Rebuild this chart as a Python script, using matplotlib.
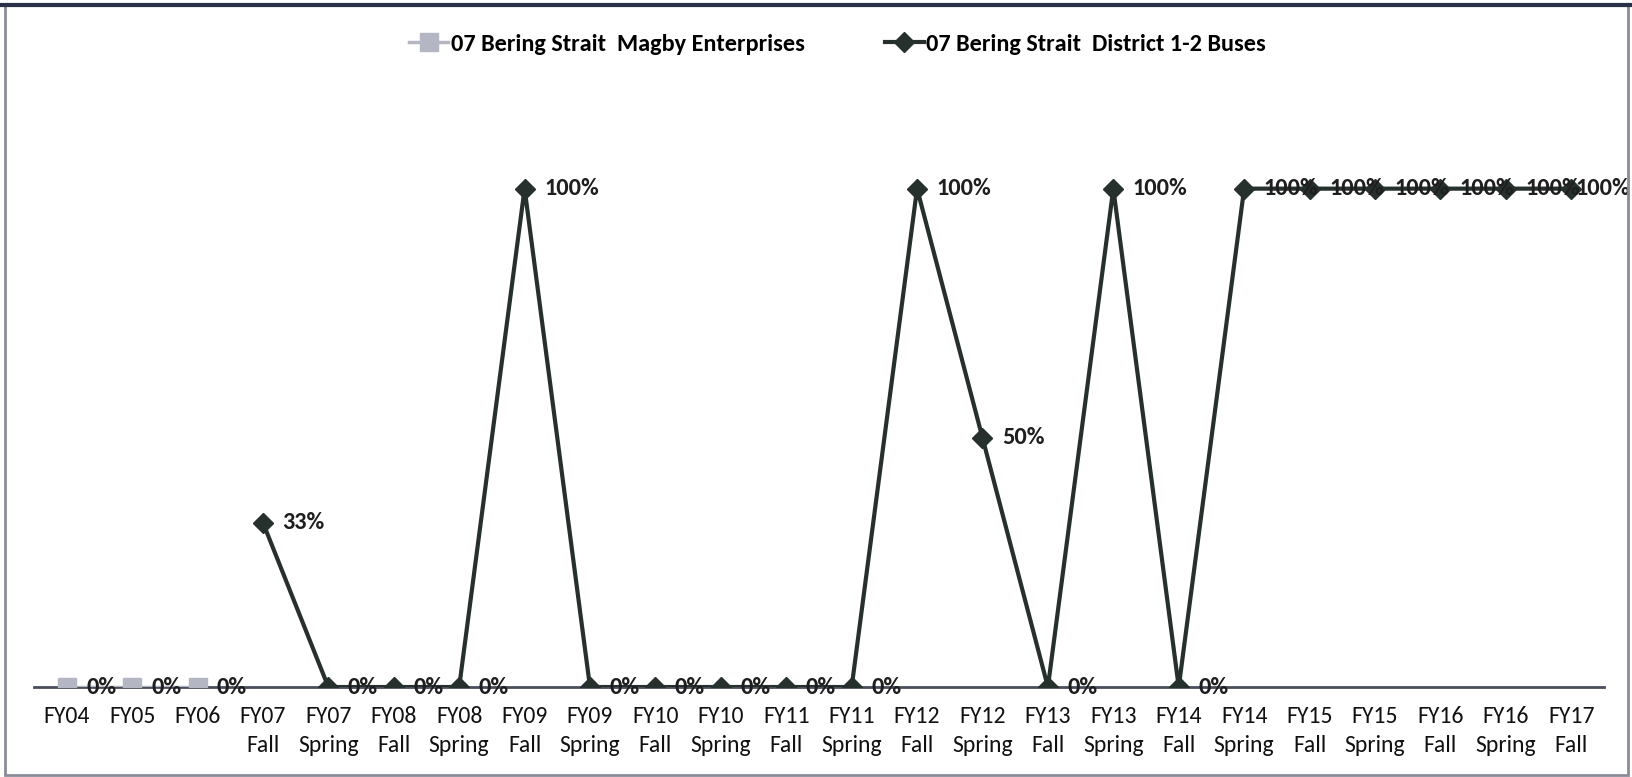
import matplotlib.pyplot as plt
import numpy as np
from matplotlib.patches import Rectangle
from matplotlib.lines import Line2D

plt.rcParams['font.family'] = ['Carlito', 'DejaVu Sans']

# categories along the x axis
terms = ["FY04", "FY05", "FY06", "FY07\nFall", "FY07\nSpring", "FY08\nFall", "FY08\nSpring",
         "FY09\nFall", "FY09\nSpring", "FY10\nFall", "FY10\nSpring", "FY11\nFall", "FY11\nSpring",
         "FY12\nFall", "FY12\nSpring", "FY13\nFall", "FY13\nSpring", "FY14\nFall", "FY14\nSpring",
         "FY15\nFall", "FY15\nSpring", "FY16\nFall", "FY16\nSpring", "FY17\nFall"]

nan = np.nan
# 07 Bering Strait Magby Enterprises
magby = [0, 0, 0] + [nan] * 21
# 07 Bering Strait District 1-2 Buses
district = [nan, nan, nan, 0.33, 0, 0, 0, 1.0, 0, 0, 0, 0, 0,
            1.0, 0.5, 0, 1.0, 0, 1.0, 1.0, 1.0, 1.0, 1.0, 1.0]

label_magby = "07 Bering Strait  Magby Enterprises"
label_district = "07 Bering Strait  District 1-2 Buses"

grey = "#b4b6c4"
dark = "#26302c"

fig = plt.figure(figsize=(16.33, 7.77), dpi=100)
ax = fig.add_axes([0.0208, 0.1158, 0.9614, 0.7697])

x = np.arange(len(terms))
ax.plot(x, magby, color=grey, lw=2.5, marker='s', ms=13, mec=grey, mfc=grey, zorder=3)
ax.plot(x, district, color=dark, lw=3, marker='D', ms=10, mec=dark, mfc=dark, zorder=4)

# data labels (the last one is pulled in so it stays inside the chart, as Excel does)
last = len(terms) - 1
for series in (magby, district):
    for xi, v in zip(x, series):
        if np.isnan(v):
            continue
        dx = 3 if xi == last else 14
        ax.annotate("%d%%" % round(v * 100), (xi, v), xytext=(dx, 0), textcoords='offset points',
                    va='center', ha='left', fontsize=17.5, fontweight='bold',
                    color='#1e1e1e', zorder=5)

ax.set_xlim(-0.5, len(terms) - 0.5)
ax.set_ylim(0, 1.2)
ax.set_xticks(x)
ax.set_xticklabels(terms, fontsize=17, linespacing=1.45)
ax.tick_params(axis='x', length=0, pad=14, colors='#111111')
ax.set_yticks([])
for s in ['top', 'left', 'right']:
    ax.spines[s].set_visible(False)
ax.spines['bottom'].set_color('#4a4e5c')
ax.spines['bottom'].set_linewidth(2)

handles = [Line2D([], [], color=grey, lw=2.5, marker='s', ms=13, mfc=grey, mec=grey),
           Line2D([], [], color=dark, lw=3, marker='D', ms=10, mfc=dark, mec=dark)]
fig.legend(handles, [label_magby, label_district], loc='center', bbox_to_anchor=(0.513, 0.943),
           ncol=2, frameon=False, prop={'size': 17.5, 'weight': 'bold'},
           handlelength=1.6, handletextpad=0.1, columnspacing=3.3)

# frame around the chart
fig.patches.append(Rectangle((0.003, 0.003), 0.994, 0.99, transform=fig.transFigure,
                             fill=False, edgecolor='#8a8c98', lw=2))
fig.lines.append(Line2D([0.0, 1.0], [0.993, 0.993], transform=fig.transFigure,
                        color='#2a3048', lw=3))

fig.savefig("out.png", dpi=100)
